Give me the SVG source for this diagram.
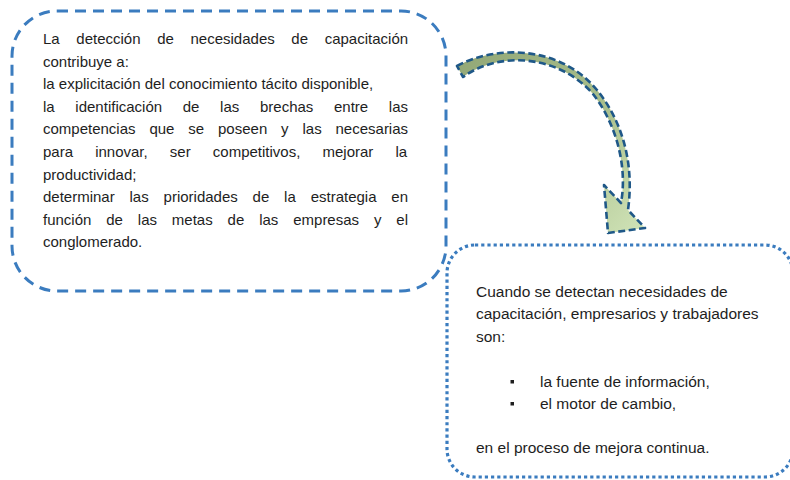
<svg xmlns="http://www.w3.org/2000/svg" width="790" height="480" viewBox="0 0 790 480">
  <defs>
    <linearGradient id="arrowFill" x1="457" y1="60" x2="640" y2="230" gradientUnits="userSpaceOnUse">
      <stop offset="0" stop-color="#93a877"/>
      <stop offset="0.55" stop-color="#a9bf8c"/>
      <stop offset="1" stop-color="#cfe2b6"/>
    </linearGradient>
  </defs>
  <style>
    .t { font-family: "Liberation Sans", Arial, sans-serif; fill: #1e1e1e; }
    .l { font-size: 15px; }
    .r { font-size: 15.5px; }
    .dash { fill: #ffffff; stroke: #3b7cbf; stroke-width: 3; stroke-dasharray: 11 7; }
    .dot { fill: #ffffff; stroke: #3b7cbf; stroke-width: 3.2; stroke-dasharray: 3.2 3; }
  </style>
  <rect width="790" height="480" fill="#ffffff"/>

  <g id="node-left">
    <rect class="dash" x="12" y="11" width="434" height="280" rx="45" ry="45"/>
    <text class="t l" x="43" y="44" word-spacing="12.47">La detección de necesidades de capacitación</text>
    <text class="t l" x="43" y="66.6">contribuye a:</text>
    <text class="t l" x="43" y="89.2">la explicitación del conocimiento tácito disponible,</text>
    <text class="t l" x="43" y="111.8" word-spacing="16.51">la identificación de las brechas entre las</text>
    <text class="t l" x="43" y="134.4" word-spacing="9.70">competencias que se poseen y las necesarias</text>
    <text class="t l" x="43" y="157" word-spacing="17.98">para innovar, ser competitivos, mejorar la</text>
    <text class="t l" x="43" y="179.6">productividad;</text>
    <text class="t l" x="43" y="202.2" word-spacing="10.67">determinar las prioridades de la estrategia en</text>
    <text class="t l" x="43" y="224.8" word-spacing="10.71">función de las metas de las empresas y el</text>
    <text class="t l" x="43" y="247.4">conglomerado.</text>
  </g>

  <g id="node-right">
    <rect class="dot" x="447" y="245" width="346" height="232" rx="28" ry="28"/>
    <text class="t r" x="476" y="296.7">Cuando se detectan necesidades de</text>
    <text class="t r" x="476" y="319.2">capacitación, empresarios y trabajadores</text>
    <text class="t r" x="476" y="341.7">son:</text>
    <rect x="510.5" y="380" width="3.5" height="3.5" fill="#1e1e1e"/>
    <text class="t r" x="540" y="386.7">la fuente de información,</text>
    <rect x="510.5" y="402" width="3.5" height="3.5" fill="#1e1e1e"/>
    <text class="t r" x="540" y="408.5">el motor de cambio,</text>
    <text class="t r" x="476" y="453">en el proceso de mejora continua.</text>
  </g>

  <g id="connectors">
    <path d="M 457,66 C 495,45 560,45 597,90 C 620,118 635,160 628,210 L 645,228 L 608,233 L 604,185 L 621,203 C 628,165 615,122 593,94 C 557,53 497,52 463,77 Z"
          fill="url(#arrowFill)" stroke="#1f5888" stroke-width="2.6" stroke-dasharray="7 3.5" stroke-linejoin="round"/>
  </g>
</svg>
